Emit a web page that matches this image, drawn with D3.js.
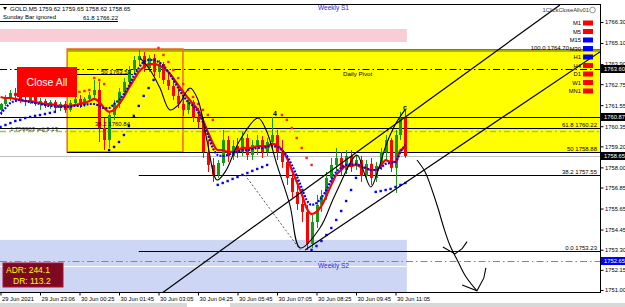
<!DOCTYPE html>
<html>
<head>
<meta charset="utf-8">
<script src="https://cdn.jsdelivr.net/npm/d3@7"></script>
<style>
  body { margin: 0; background: #fff; }
  svg { display: block; font-family: "Liberation Sans", Arial, sans-serif; }
</style>
</head>
<body>
<svg id="chart" width="625" height="307"></svg>
<script>
// ---- data (GOLD M5, 10 min per candle here) ----
var priceTicks = [1766.30, 1765.10, 1763.90, 1762.75, 1761.55, 1760.35, 1759.20,
                  1758.00, 1756.85, 1755.65, 1754.45, 1753.30, 1752.15, 1751.00];
var timeTickIdx = [0, 8, 16, 24, 32, 40, 48, 56, 64, 72, 80];
var timeLabels = ["29 Jun 2021", "29 Jun 23:06", "30 Jun 00:25", "30 Jun 01:45", "30 Jun 03:05",
                  "30 Jun 04:25", "30 Jun 05:45", "30 Jun 07:05", "30 Jun 08:25", "30 Jun 09:45", "30 Jun 11:05"];

// open, high, low, close
var candles = [
  [1761.28,1761.68,1760.99,1761.62],[1761.62,1762.13,1761.51,1761.96],[1761.96,1762.42,1761.79,1762.25],
  [1762.25,1762.53,1761.91,1762.08],[1762.08,1762.31,1761.68,1761.85],[1761.85,1762.08,1761.51,1761.73],
  [1761.73,1762.19,1761.62,1762.02],[1762.02,1762.13,1761.51,1761.62],[1761.62,1761.96,1761.28,1761.79],
  [1761.79,1761.91,1761.39,1761.51],[1761.51,1761.85,1761.34,1761.73],[1761.73,1761.85,1761.17,1761.39],
  [1761.39,1761.73,1761.22,1761.62],[1761.62,1761.79,1761.11,1761.28],[1761.28,1761.85,1761.17,1761.68],
  [1761.68,1762.08,1761.51,1761.91],[1761.91,1762.13,1761.39,1761.56],[1761.56,1762.02,1761.45,1761.91],
  [1761.91,1762.31,1761.73,1762.13],[1762.13,1762.99,1761.85,1762.42],[1762.42,1762.88,1759.45,1760.25],
  [1760.25,1760.82,1758.99,1759.56],[1759.56,1761.17,1759.11,1760.99],[1760.99,1761.85,1760.71,1761.62],
  [1761.62,1762.53,1761.39,1762.31],[1762.31,1763.10,1762.08,1762.88],[1762.88,1763.79,1762.65,1763.56],
  [1763.56,1764.36,1763.33,1764.13],[1764.13,1764.70,1763.79,1764.36],[1764.36,1764.59,1763.45,1763.67],
  [1763.67,1764.42,1763.45,1764.25],[1764.25,1764.47,1763.22,1763.45],[1763.45,1764.13,1763.10,1763.90],
  [1763.90,1764.02,1762.76,1762.99],[1762.99,1763.45,1762.42,1762.65],[1762.65,1762.99,1761.85,1762.08],
  [1762.08,1762.53,1761.39,1761.62],[1761.62,1762.13,1760.94,1761.28],[1761.28,1761.96,1761.05,1761.73],
  [1761.73,1761.85,1760.59,1760.82],[1760.82,1761.39,1760.25,1760.59],[1760.59,1760.82,1758.54,1758.88],
  [1758.88,1759.56,1757.74,1758.14],[1758.14,1758.54,1757.17,1757.57],[1757.57,1758.42,1757.40,1758.25],
  [1758.25,1760.14,1758.08,1759.56],[1759.56,1759.79,1758.31,1758.65],[1758.65,1759.56,1758.42,1759.22],
  [1759.22,1759.68,1758.54,1758.88],[1758.88,1760.02,1758.65,1759.68],[1759.68,1759.91,1758.42,1758.71],
  [1758.71,1759.56,1758.42,1759.28],[1759.28,1759.85,1758.71,1759.56],[1759.56,1759.79,1758.54,1758.88],
  [1758.88,1759.68,1758.65,1759.45],[1759.45,1760.88,1758.99,1759.85],[1759.85,1760.14,1758.42,1758.88],
  [1758.88,1759.56,1757.97,1758.31],[1758.31,1758.71,1757.00,1757.40],[1757.40,1757.85,1756.26,1756.60],
  [1756.60,1757.28,1755.57,1755.91],[1755.91,1756.43,1754.88,1755.46],[1755.46,1755.86,1753.29,1753.63],
  [1753.63,1755.28,1753.40,1754.88],[1754.88,1756.43,1754.54,1755.86],[1755.86,1756.71,1755.46,1756.37],
  [1756.37,1757.74,1756.14,1757.40],[1757.40,1758.54,1757.06,1758.14],[1758.14,1759.11,1757.74,1758.54],
  [1758.54,1758.88,1757.57,1757.85],[1757.85,1758.99,1757.62,1758.65],[1758.65,1758.99,1757.74,1758.08],
  [1758.08,1758.71,1757.85,1758.42],[1758.42,1758.65,1757.17,1757.51],[1757.51,1758.42,1757.28,1758.20],
  [1758.20,1758.54,1757.00,1757.40],[1757.40,1758.31,1757.17,1758.08],[1758.08,1759.11,1757.85,1758.88],
  [1758.88,1759.85,1758.42,1759.56],[1759.56,1759.68,1757.74,1757.97],[1757.97,1760.14,1756.54,1759.85],
  [1759.85,1761.17,1759.56,1760.82],[1760.82,1761.28,1758.54,1758.65]
];

var maRed = [
  1762.02,1761.96,1761.96,1761.91,1761.85,1761.79,1761.79,1761.73,1761.68,1761.62,
  1761.62,1761.56,1761.51,1761.51,1761.51,1761.56,1761.62,1761.68,1761.79,1761.91,
  1761.73,1761.39,1761.17,1761.28,1761.62,1762.02,1762.53,1762.99,1763.45,1763.73,
  1763.90,1763.90,1763.85,1763.67,1763.45,1763.10,1762.70,1762.31,1761.96,1761.62,
  1761.28,1760.71,1760.02,1759.39,1758.99,1758.99,1758.88,1758.88,1758.94,1759.11,
  1759.11,1759.11,1759.22,1759.22,1759.22,1759.34,1759.28,1758.99,1758.54,1757.85,
  1757.17,1756.48,1755.68,1755.34,1755.46,1755.80,1756.37,1757.00,1757.57,1757.85,
  1758.08,1758.08,1758.14,1758.02,1757.97,1757.85,1757.85,1758.08,1758.42,1758.31,
  1758.31,1758.99,1759.11
];
var maBlue = [
  1761.05,1761.39,1761.68,1761.79,1761.85,1761.79,1761.73,1761.68,1761.62,1761.56,
  1761.51,1761.51,1761.45,1761.45,1761.45,1761.51,1761.51,1761.56,1761.62,1761.62,
  1761.51,1761.39,1761.39,1761.62,1761.85,1762.19,1762.65,1763.22,1763.67,1764.02,
  1764.13,1764.13,1764.02,1763.79,1763.45,1762.99,1762.53,1762.08,1761.73,1761.51,
  1761.17,1760.59,1759.85,1759.11,1758.71,1758.65,1758.71,1758.82,1758.88,1758.99,
  1758.99,1759.05,1759.11,1759.11,1759.17,1759.22,1759.17,1758.99,1758.65,1758.14,
  1757.51,1756.83,1756.14,1755.86,1755.97,1756.26,1756.71,1757.28,1757.74,1757.97,
  1758.14,1758.14,1758.20,1758.08,1757.97,1757.85,1757.85,1757.97,1758.20,1758.25,
  1758.31,1758.88,1759.28
];

// parabolic SAR runs: [first candle index, values]
var sarBlueRuns = [
  [0,  [1760.31,1760.42,1760.53,1760.65,1760.71,1760.82,1760.88,1760.94,1760.99,1761.05,1761.11,1761.17]],
  [22, [1758.99,1759.17,1759.45,1759.85,1760.36,1760.94,1761.51,1762.08,1762.53,1762.99]],
  [44, [1757.00,1757.11,1757.22,1757.34,1757.45,1757.57,1757.68,1757.80,1757.91,1758.02,1758.14]],
  [63, [1753.29,1753.51,1753.80,1754.14,1754.54,1755.00,1755.51,1756.08,1756.71,1757.40]],
  [76, [1756.60,1756.65,1756.71,1756.77,1756.88,1757.00,1757.11]]
];
var sarRedRuns = [
  [12, [1762.19,1762.19,1762.25,1762.25,1762.31,1762.36,1762.42]],
  [19, [1763.10,1762.99,1762.76]],
  [32, [1764.82,1764.42,1764.02,1763.56,1763.10,1762.76,1762.42,1762.02,1761.62,1761.28,1760.99,1760.71]],
  [57, [1760.99,1760.71,1760.25,1759.68,1759.11,1758.54,1758.14]]
];

// thin black swing curve, dashed helper, channel, hand-drawn arrow  [index, price]
var swingLine = [[28.25,1764.25],[30.3,1763.56],[32.3,1762.53],[34.3,1761.28],[36.0,1761.56],[38.4,1762.53],
  [40.0,1761.85],[41.8,1759.56],[43.85,1757.28],[45.5,1757.74],[48.5,1759.56],[52.15,1760.82],[53.8,1760.14],
  [56.0,1758.14],[58.6,1755.86],[60.7,1753.40],[64.7,1754.54],[67.75,1756.43],[72.2,1758.71],[73.6,1757.74],
  [75.0,1756.88],[76.5,1757.85],[78.1,1759.28],[79.9,1760.42],[81.9,1761.28]];
var dashedLine = [[49.5,1757.57],[60.7,1753.29]];
var channelUpper = [[31.9,1750.66],[113.3,1767.27]];
var channelLower = [[61.7,1753.29],[121.4,1764.59]];
var sketchArrow = [[84.35,1758.42],[86.0,1757.74],[87.4,1756.71],[88.6,1755.68],[89.8,1754.54],
  [91.0,1753.57],[92.7,1752.60],[94.3,1751.74],[96.5,1750.95]];
var sketchHead = [[93.5,1751.29],[96.5,1750.95],[97.9,1751.69],[98.3,1752.26]];
var sketchHook = [[89.6,1753.46],[92.05,1753.06],[93.5,1753.36],[94.5,1753.76]];

// zones [top price, bottom price] and their time span [start index, end index]
var weeklyS1Zone = [1765.90, 1765.16];
var weeklyS2Zone = [1753.86, 1750.80];
var pivotZone = [1764.76, 1758.88];
var zoneSpan = [0, 82.3];
var boxSpan = [13.5, 36.95];

var dailyPivot = 1763.60;
var weeklyS2 = 1752.65;
var lastPrice = 1758.65;
var level1087 = 1760.87;
var fibRight = [[61.8, 1760.22], [50, 1758.88], [38.2, 1757.55], [0.0, 1753.23]];
var fibLeft = [[61.8, 1766.22], [50, 1763.53], [38.2, 1760.84]];

var tfNames = ["M1", "M5", "M15", "M30", "H1", "H4", "D1", "W1", "MN1"];
var tfUp = [0, 0, 1, 1, 1, 0, 0, 0, 0];

// ---- drawing ----
var svg = d3.select("#chart");
var x = d3.scaleLinear().domain([0, 80]).range([0.5, 395.5]);
var y = d3.scaleLinear().domain([1751.00, 1766.30]).range([290, 22]);
var plotRight = 600, plotTop = 4, plotBottom = 292;

svg.append("defs").append("clipPath").attr("id", "plot")
  .append("rect").attr("x", 0).attr("y", plotTop).attr("width", plotRight).attr("height", plotBottom - plotTop);

var g = svg.append("g").attr("clip-path", "url(#plot)");

// zones
g.append("rect").attr("x", x(zoneSpan[0]) - 1).attr("width", x(zoneSpan[1]) - x(zoneSpan[0]) + 1)
  .attr("y", y(weeklyS1Zone[0])).attr("height", y(weeklyS1Zone[1]) - y(weeklyS1Zone[0]))
  .attr("fill", "#f9cdd5");
g.append("rect").attr("x", x(zoneSpan[0]) - 1).attr("width", x(zoneSpan[1]) - x(zoneSpan[0]) + 1)
  .attr("y", y(weeklyS2Zone[0])).attr("height", y(weeklyS2Zone[1]) - y(weeklyS2Zone[0]))
  .attr("fill", "#cdd6f4");
g.append("line").attr("x1", 0).attr("x2", x(zoneSpan[1])).attr("y1", 266.5).attr("y2", 266.5)
  .attr("stroke", "#fff");
g.append("rect").attr("x", x(boxSpan[0])).attr("width", plotRight - x(boxSpan[0]))
  .attr("y", y(pivotZone[0])).attr("height", y(pivotZone[1]) - y(pivotZone[0]))
  .attr("fill", "#ffff00");
g.append("line").attr("x1", x(boxSpan[0])).attr("x2", plotRight)
  .attr("y1", y(pivotZone[0]) + 0.5).attr("y2", y(pivotZone[0]) + 0.5).attr("stroke", "#00c000").attr("stroke-width", 1.2);
g.append("line").attr("x1", x(boxSpan[0])).attr("x2", plotRight)
  .attr("y1", y(pivotZone[0]) + 2).attr("y2", y(pivotZone[0]) + 2).attr("stroke", "#3a3a00").attr("stroke-width", 0.8);
g.append("rect").attr("x", x(boxSpan[0])).attr("width", x(boxSpan[1]) - x(boxSpan[0]))
  .attr("y", y(pivotZone[0])).attr("height", y(pivotZone[1]) - y(pivotZone[0]))
  .attr("fill", "none").attr("stroke", "#f06a28").attr("stroke-width", 1.5);

// horizontal levels
function hline(p, x1, x2, color, dash, w, dy) {
  var py = Math.round(y(p)) + 0.5 + (dy || 0);
  g.append("line").attr("x1", x1).attr("x2", x2)
    .attr("y1", py).attr("y2", py)
    .attr("stroke", color).attr("stroke-width", w || 1)
    .attr("stroke-dasharray", dash || null);
}
hline(dailyPivot, 0, plotRight, "#000", "7,3,1.5,3");
hline(weeklyS2, 0, plotRight, "#6f7ff0", "7,3,1.5,3", 1.2);
hline(1760.05, 0, plotRight, "#9acd32", "6,3,2,3", 1.3);
hline(level1087, 0, plotRight, "#000");
hline(lastPrice, 0, plotRight, "#c0c0c0");
hline(fibRight[0][1], 0, plotRight, "#000");
hline(fibRight[1][1], x(boxSpan[0]), plotRight, "#000");
hline(fibRight[2][1], x(28), plotRight, "#000");
hline(fibRight[3][1], x(28), plotRight, "#000");
hline(fibLeft[0][1], 0, 118, "#000", null, 1, -2);
hline(fibLeft[1][1], x(boxSpan[0]), 133, "#000", null, 1, 3);

// candles
var cw = 3;
var cg = g.append("g");
candles.forEach(function(c, i) {
  var up = c[3] >= c[0];
  var col = up ? "#129a12" : "#ff0000";
  var cx = Math.round(x(i)) + 0.5;
  cg.append("line").attr("x1", cx).attr("x2", cx).attr("y1", y(c[1])).attr("y2", y(c[2]))
    .attr("stroke", col).attr("stroke-width", 1);
  var t = y(Math.max(c[0], c[3])), b = y(Math.min(c[0], c[3]));
  cg.append("rect").attr("x", cx - cw / 2).attr("width", cw)
    .attr("y", t).attr("height", Math.max(1, b - t)).attr("fill", col);
});

// moving averages
var maLine = d3.line().x(function(d, i) { return x(i); }).y(function(d) { return y(d); }).curve(d3.curveMonotoneX);
g.append("path").datum(maRed).attr("d", maLine).attr("fill", "none").attr("stroke", "#ff0000").attr("stroke-width", 2.2);
g.append("path").datum(maBlue).attr("d", maLine).attr("fill", "none").attr("stroke", "#0000ff")
  .attr("stroke-width", 2.2).attr("stroke-dasharray", "2,1.3");

// parabolic SAR dots
function sarDots(runs, color) {
  runs.forEach(function(r) {
    r[1].forEach(function(v, k) {
      g.append("rect").attr("x", x(r[0] + k) - 1.2).attr("y", y(v) - 1.2)
        .attr("width", 2.4).attr("height", 2.4).attr("fill", color);
    });
  });
}
sarDots(sarRedRuns, "#ff2020");
sarDots(sarBlueRuns, "#0000ff");

// drawn lines
var pl = d3.line().x(function(d) { return x(d[0]); }).y(function(d) { return y(d[1]); });
g.append("path").datum(swingLine).attr("d", pl.curve(d3.curveCatmullRom)).attr("fill", "none")
  .attr("stroke", "#000").attr("stroke-width", 1.1);
pl.curve(d3.curveLinear);
g.append("path").datum(dashedLine).attr("d", pl).attr("stroke", "#555").attr("stroke-dasharray", "2,2").attr("fill", "none");
g.append("path").datum(channelUpper).attr("d", pl).attr("stroke", "#000").attr("stroke-width", 1.2).attr("fill", "none");
g.append("path").datum(channelLower).attr("d", pl).attr("stroke", "#000").attr("stroke-width", 1.2).attr("fill", "none");
g.append("path").datum(sketchArrow).attr("d", pl.curve(d3.curveCatmullRom)).attr("stroke", "#000").attr("stroke-width", 1.1).attr("fill", "none");
pl.curve(d3.curveLinear);
g.append("path").datum(sketchHead).attr("d", pl).attr("stroke", "#000").attr("stroke-width", 1.1).attr("fill", "none");
g.append("path").datum(sketchHook).attr("d", pl).attr("stroke", "#000").attr("stroke-width", 1.1).attr("fill", "none");

// texts inside the plot
function txt(s, px, py, opt) {
  opt = opt || {};
  return svg.append("text").attr("x", px).attr("y", py).text(s)
    .attr("font-size", opt.size || 6).attr("fill", opt.color || "#000")
    .attr("text-anchor", opt.anchor || "start").attr("font-weight", opt.weight || null);
}
txt("Weekly S1", 318, 10, {color: "#1c1cff", size: 6.5});
txt("Weekly S2", 318, 268, {color: "#1c1cff", size: 6.5});
txt("Daily Pivot", 343, 76, {size: 6.2});
fibRight.forEach(function(f) {
  txt((f[0] === 0 ? "0.0" : f[0]) + " " + f[1].toFixed(2), 597, y(f[1]) - 1, {anchor: "end"});
});
txt("100.0 1764.70", 569, 50, {anchor: "end"});
txt(fibLeft[0][0] + " " + fibLeft[0][1].toFixed(2), 118, 19.5, {anchor: "end"});
txt(fibLeft[1][0] + " " + fibLeft[1][1].toFixed(2), 131, 73.5, {anchor: "end"});
txt(fibLeft[2][0] + " " + fibLeft[2][1].toFixed(2), 130, 125.5, {anchor: "end"});
txt("1.759903 adj 9.13", 10, 131, {color: "#333"});
txt("4", 273, 116, {size: 7, weight: "bold"});
txt("c", 403, 110, {size: 7, weight: "bold"});

// header
svg.append("path").attr("d", "M3,7 L7,7 L5,10 Z").attr("fill", "#000");
txt("GOLD,M5  1759.62 1759.65 1758.62 1758.65", 10, 11);
txt("Sunday Bar ignored", 3, 19);

// Close All button and ADR box
svg.append("rect").attr("x", 17).attr("y", 67).attr("width", 60).attr("height", 30).attr("fill", "#ff0000");
txt("Close All", 47, 86, {anchor: "middle", color: "#fff", size: 10.5});
svg.append("rect").attr("x", 3).attr("y", 263).attr("width", 60).attr("height", 24)
  .attr("fill", "#7d0a22").attr("stroke", "#b01030");
txt("ADR: 244.1", 6, 273, {color: "#ffff00", size: 8.5});
txt("DR: 113.2", 13, 284, {color: "#ffff00", size: 8.5});

// timeframe panel
txt("1ClickCloseAllv01", 589, 12, {anchor: "end", size: 5.8, color: "#333"});
svg.append("circle").attr("cx", 592.5).attr("cy", 10).attr("r", 2.8).attr("fill", "none").attr("stroke", "#666").attr("stroke-width", 0.7);
tfNames.forEach(function(n, k) {
  var cy = 23 + k * 8.5;
  txt(n, 581, cy + 2, {anchor: "end", size: 5.8});
  svg.append("rect").attr("x", 583).attr("y", cy - 2.5).attr("width", 10).attr("height", 5)
    .attr("fill", tfUp[k] ? "#0000ff" : "#ff0000");
});

// axes
svg.append("line").attr("x1", 0).attr("x2", plotRight).attr("y1", plotTop + 0.5).attr("y2", plotTop + 0.5).attr("stroke", "#000");
svg.append("line").attr("x1", plotRight + 0.5).attr("x2", plotRight + 0.5).attr("y1", plotTop).attr("y2", plotBottom).attr("stroke", "#000");
svg.append("line").attr("x1", 0).attr("x2", plotRight + 1).attr("y1", plotBottom + 0.5).attr("y2", plotBottom + 0.5).attr("stroke", "#000");

var yAxis = svg.append("g").attr("transform", "translate(" + (plotRight + 0.5) + ",0)")
  .call(d3.axisRight(y).tickValues(priceTicks).tickSize(3).tickPadding(1.5).tickFormat(d3.format(".2f")));
yAxis.select(".domain").remove();
yAxis.selectAll("text").attr("font-size", 5.8).attr("font-family", "Liberation Sans, Arial, sans-serif");

var xAxis = svg.append("g").attr("transform", "translate(0," + (plotBottom + 0.5) + ")")
  .call(d3.axisBottom(x).tickValues(timeTickIdx).tickSize(3).tickFormat(function(d, i) { return timeLabels[i]; }));
xAxis.select(".domain").remove();
xAxis.selectAll("text").attr("font-size", 5.8).attr("text-anchor", "start").attr("dx", 1).attr("dy", "0.45em")
  .attr("font-family", "Liberation Sans, Arial, sans-serif");

// price markers on the axis
function marker(p, fill) {
  var my = Math.round(y(p));
  svg.append("rect").attr("x", plotRight + 1).attr("y", my - 4).attr("width", 24).attr("height", 8).attr("fill", fill);
  txt(p.toFixed(2), plotRight + 4, my + 2, {color: "#fff", size: 5.8});
}
marker(dailyPivot, "#000");
marker(level1087, "#000");
marker(lastPrice, "#000");
marker(weeklyS2, "#0000ff");

// bottom strip
svg.append("rect").attr("x", 0).attr("y", 303).attr("width", 625).attr("height", 4).attr("fill", "#d8d8d8");
svg.append("rect").attr("x", 187).attr("y", 303).attr("width", 43).attr("height", 4).attr("fill", "#fff");
</script>
</body>
</html>
